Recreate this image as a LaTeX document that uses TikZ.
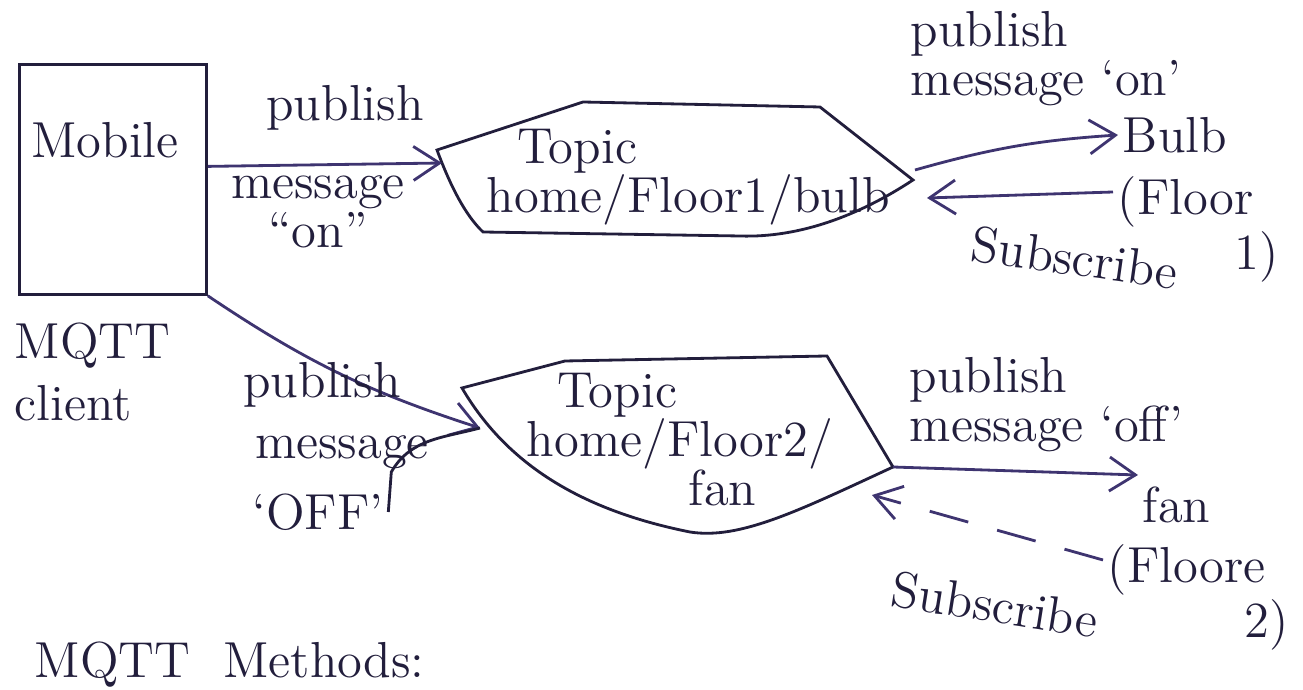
\documentclass[tikz,border=0pt]{standalone}
\usepackage{tikz}
\usetikzlibrary{arrows.meta}
\definecolor{ink}{HTML}{221E3C}
\definecolor{inkv}{HTML}{3E3470}

\begin{document}
\begin{tikzpicture}[x=0.1mm, y=-0.1mm, line width=0.8pt,
  font=\fontsize{14.4pt}{14pt}\selectfont,
  pen/.style={draw=ink},
  arr/.style={draw=inkv, -{Straight Barb[length=2.6mm, width=3.4mm]}},
  txt/.style={text=ink, inner sep=1pt}]

  \useasboundingbox (0,0) rectangle (1303,690);
  \clip (0,0) rectangle (1303,690);

  % client
  \node[draw=ink, minimum width=18.7mm, minimum height=23mm, anchor=north west, inner sep=0pt] (mob) at (18,63) {};
  \node[txt] (mobl) at (105,140) {Mobile};
  \node[txt, anchor=north west, align=left] (cli) at (10,318) {MQTT\\[0.6ex]client};

  % topic 1
  \coordinate (t1in) at (442,163);
  \coordinate (t1out) at (915,170);
  \coordinate (t1sub) at (927,198);
  \draw[pen] (437,150) -- (583,102) -- (820,107) -- (913,180)
    .. controls (860,215) and (800,238) .. (740,236) -- (483,232)
    .. controls (465,215) and (450,185) .. cycle;
  \node[txt, anchor=north west, align=left] (t1) at (482,124) {\hspace*{0.6em}Topic\\home/Floor1/bulb};

  % topic 2
  \coordinate (t2in) at (480,428);
  \coordinate (t2out) at (893,467);
  \coordinate (t2sub) at (872,495);
  \draw[pen] (462,388) -- (565,361) -- (827,356) -- (893,467)
    .. controls (800,510) and (740,540) .. (690,532)
    .. controls (590,512) and (510,470) .. cycle;
  \node[txt, anchor=north west, align=left] (t2) at (522,368) {\hspace*{0.6em}Topic\\home/Floor2/\\\hspace*{3.2em}fan};

  % mobile -> topics
  \draw[arr] ([yshift=1.3mm]mob.east) -- (t1in);
  \node[txt] (pub1) at (345,108) {publish};
  \node[txt, align=center] (msg1) at (318,212) {message\\``on''};

  \draw[arr] (mob.south east) to[bend right=8] (t2in);
  \node[txt] (pub2) at (322,385) {publish};
  \node[txt] (msg2) at (342,452) {message};
  \node[txt] (off2) at (318,512) {`OFF'};
  \draw[pen] (off2.east) -- ++(3,-40) to[out=60, in=195] (t2in);

  % bulb side
  \node[txt, anchor=north west, align=left] (pm3) at (906,6) {publish\\message `on'};
  \node[txt, anchor=west] (bulb) at (1118,135) {Bulb};
  \node[txt, anchor=north west, align=left] (fl1) at (1113,172) {(Floor\\\hspace*{2.3em}1)};
  \draw[arr] (t1out) to[bend left=6] (bulb.west);
  \draw[arr] ([yshift=-2mm]fl1.north west) -- (t1sub);
  \node[txt, rotate=-8] (sub1) at (1075,258) {Subscribe};

  % fan side
  \node[txt, anchor=north west, align=left] (pm4) at (905,352) {publish\\message `off'};
  \node[txt, anchor=west] (fan) at (1138,505) {fan};
  \node[txt, anchor=north west, align=left] (fl2) at (1103,540) {(Floore\\\hspace*{2.7em}2)};
  \draw[arr] (t2out) -- ([yshift=3mm]fan.west);
  \draw[arr, dash pattern=on 4mm off 3mm] ([yshift=-2mm]fl2.north west) -- (t2sub);
  \node[txt, rotate=-9] (sub2) at (995,605) {Subscribe};

  % bottom heading
  \node[txt, anchor=base west] (meth) at (30,678) {MQTT\ \ Methods:};
\end{tikzpicture}
\end{document}
